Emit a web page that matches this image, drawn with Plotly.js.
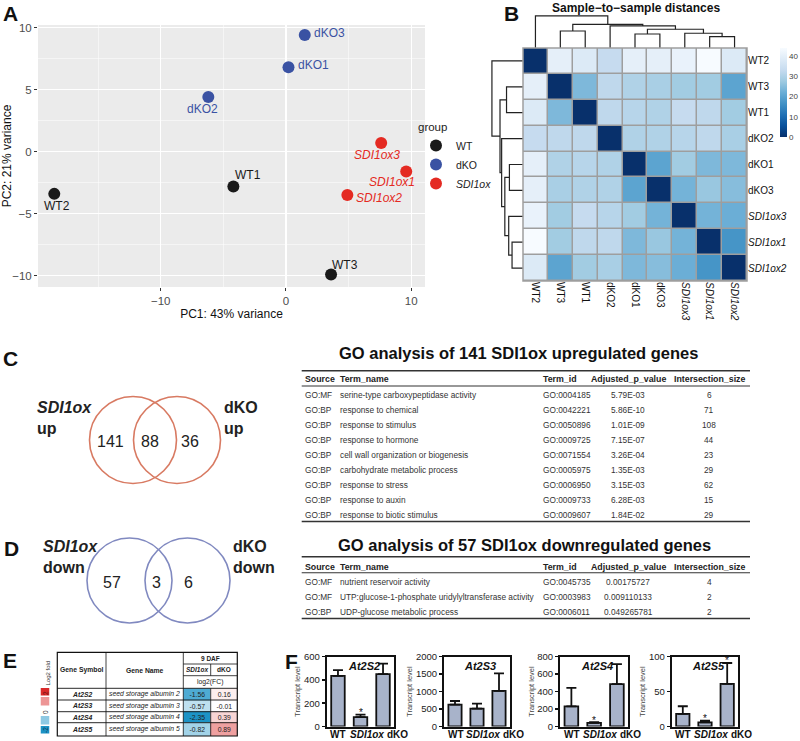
<!DOCTYPE html>
<html>
<head>
<meta charset="utf-8">
<script src="https://cdn.plot.ly/plotly-3.0.1.min.js"></script>
<style>body{margin:0;background:#fff;} #fig{width:800px;height:741px;}</style>
</head>
<body>
<div id="fig"></div>
<script>
// ---------- data ----------
// A: PCA
const sampleNames = ['WT1', 'WT2', 'WT3', 'dKO1', 'dKO2', 'dKO3', 'SDI1ox1', 'SDI1ox2', 'SDI1ox3'];
const sampleGroup = ['WT', 'WT', 'WT', 'dKO', 'dKO', 'dKO', 'SDI1ox', 'SDI1ox', 'SDI1ox'];
const pc1 = [-4.2, -18.5, 3.6, 0.2, -6.2, 1.5, 9.6, 4.9, 7.6];
const pc2 = [-2.8, -3.4, -9.9, 6.8, 4.4, 9.4, -1.6, -3.5, 0.7];

// B: sample distances (heatmap order)
const hmOrder = ['WT2', 'WT3', 'WT1', 'dKO2', 'dKO1', 'dKO3', 'SDI1ox3', 'SDI1ox1', 'SDI1ox2'];
const sampleDist = [
  [0, 40, 38, 33, 40, 40, 41, 44, 38],
  [40, 0, 24, 32, 30, 29, 28, 28, 20],
  [38, 24, 0, 32, 31, 30, 33, 32, 28],
  [33, 32, 32, 0, 30, 30, 31, 32, 29],
  [40, 30, 31, 30, 0, 20, 28, 24, 24],
  [40, 29, 30, 30, 20, 0, 23, 27, 25],
  [41, 28, 33, 31, 28, 23, 0, 23, 22],
  [44, 28, 32, 32, 24, 27, 23, 0, 17],
  [38, 20, 28, 29, 24, 25, 22, 17, 0]
];
// hclust-style merges: negative = leaf (1-based in hmOrder), positive = earlier merge
const hcMerge = [[-2, -3], [-5, -6], [-8, -9], [-7, 3], [2, 4], [-4, 5], [1, 6], [-1, 7]];
const hcHeight = [21.2, 17.5, 14.1, 18.4, 23.4, 27.5, 29.6, 40];

// C / D: venn counts [left only, both, right only]
const vennUpCounts = [141, 88, 36];
const vennDownCounts = [57, 3, 6];

// GO tables
const goHeader = ['Source', 'Term_name', 'Term_id', 'Adjusted_p_value', 'Intersection_size'];
const goUpSource = ['GO:MF', 'GO:BP', 'GO:BP', 'GO:BP', 'GO:BP', 'GO:BP', 'GO:BP', 'GO:BP', 'GO:BP'];
const goUpTerm = ['serine-type carboxypeptidase activity', 'response to chemical', 'response to stimulus',
  'response to hormone', 'cell wall organization or biogenesis', 'carbohydrate metabolic process',
  'response to stress', 'response to auxin', 'response to biotic stimulus'];
const goUpId = ['GO:0004185', 'GO:0042221', 'GO:0050896', 'GO:0009725', 'GO:0071554', 'GO:0005975',
  'GO:0006950', 'GO:0009733', 'GO:0009607'];
const goUpPadj = ['5.79E-03', '5.86E-10', '1.01E-09', '7.15E-07', '3.26E-04', '1.35E-03', '3.15E-03', '6.28E-03', '1.84E-02'];
const goUpSize = [6, 71, 108, 44, 23, 29, 62, 15, 29];

const goDownSource = ['GO:MF', 'GO:MF', 'GO:BP'];
const goDownTerm = ['nutrient reservoir activity', 'UTP:glucose-1-phosphate uridylyltransferase activity', 'UDP-glucose metabolic process'];
const goDownId = ['GO:0045735', 'GO:0003983', 'GO:0006011'];
const goDownPadj = ['0.00175727', '0.009110133', '0.049265781'];
const goDownSize = [4, 2, 2];

// E: fold changes
const geneSymbols = ['At2S2', 'At2S3', 'At2S4', 'At2S5'];
const geneNames = ['seed storage albumin 2', 'seed storage albumin 3', 'seed storage albumin 4', 'seed storage albumin 5'];
const fcSDI1ox = [-1.56, -0.57, -2.35, -0.82];
const fcDKO = [0.16, -0.01, 0.39, 0.89];
const fcLegend = [2, 1, 0, -1, -2];

// F: transcript levels
const barGroups = ['WT', 'SDI1ox', 'dKO'];
const qGenes = ['At2S2', 'At2S3', 'At2S4', 'At2S5'];
const qMean = [[435, 80, 450], [625, 510, 1020], [231, 42, 485], [18, 6, 61]];
const qErr = [[50, 22, 90], [105, 145, 500], [211, 8, 230], [11, 2.5, 30]];
const qSig = [[false, true, false], [false, false, false], [false, true, false], [false, true, true]];

// ---------- helpers ----------
const W = 800, H = 741;
const px = x => x / W;
const py = y => 1 - y / H;
const dx = (a, b) => [a / W, b / W];
const dy = (top, bottom) => [1 - bottom / H, 1 - top / H];
const ARIAL = 'Liberation Sans, Arial, sans-serif';
const it = s => s.startsWith('SDI1ox') ? '<i>' + s + '</i>' : s;

const traces = [];
const annotations = [];
const shapes = [];

function ann(x, y, text, o = {}) {
  return {
    xref: 'paper', yref: 'paper', x: px(x), y: py(y), text: text, showarrow: false,
    xanchor: o.xanchor || 'center', yanchor: o.yanchor || 'middle', align: o.align || 'center',
    textangle: o.angle || 0,
    font: {family: ARIAL, size: o.size || 12, color: o.color || '#222'}
  };
}
function hline(x0, x1, y, width, color) {
  shapes.push({type: 'line', xref: 'paper', yref: 'paper', x0: px(x0), x1: px(x1), y0: py(y), y1: py(y),
    line: {color: color || '#222', width: width}});
}
function vline(x, y0, y1, width, color) {
  shapes.push({type: 'line', xref: 'paper', yref: 'paper', x0: px(x), x1: px(x), y0: py(y0), y1: py(y1),
    line: {color: color || '#222', width: width}});
}

const layout = {
  width: W, height: H,
  margin: {l: 0, r: 0, t: 0, b: 0},
  paper_bgcolor: '#fff', plot_bgcolor: 'rgba(0,0,0,0)',
  font: {family: ARIAL, color: '#222'},
  showlegend: true,
  legend: {
    x: px(416), y: py(116), xanchor: 'left', yanchor: 'top',
    title: {text: 'group', font: {size: 11.5, color: '#222'}},
    font: {size: 10.5, color: '#222'}, bgcolor: 'rgba(0,0,0,0)', tracegroupgap: 0
  }
};

// panel letters
[['A', 10, 14], ['B', 511, 13], ['C', 10, 358], ['D', 11, 548], ['E', 10, 660], ['F', 291, 661]].forEach(l => {
  annotations.push(ann(l[1], l[2], '<b>' + l[0] + '</b>', {size: 21, color: '#111'}));
});

// ---------- A: PCA ----------
const groupColor = {WT: '#1A1A1A', dKO: '#3A52A3', SDI1ox: '#E42A22'};
// label offsets from each point, in pixels (right, up)
const labelShift = {
  WT1: [15, 11], WT2: [3, -12], WT3: [14, 10],
  dKO1: [25, 2], dKO2: [-6, -12], dKO3: [25, 2],
  SDI1ox1: [-14, -10], SDI1ox2: [32, -3], SDI1ox3: [-4, -12]
};
['WT', 'dKO', 'SDI1ox'].forEach(g => {
  const idx = sampleNames.map((n, i) => i).filter(i => sampleGroup[i] === g);
  traces.push({
    type: 'scatter', mode: 'markers', xaxis: 'x', yaxis: 'y',
    x: idx.map(i => pc1[i]), y: idx.map(i => pc2[i]),
    marker: {size: 12, color: groupColor[g]},
    name: it(g), cliponaxis: false, hoverinfo: 'skip'
  });
  idx.forEach(i => {
    annotations.push({xref: 'x', yref: 'y', x: pc1[i], y: pc2[i], showarrow: false,
      xshift: labelShift[sampleNames[i]][0], yshift: labelShift[sampleNames[i]][1],
      xanchor: 'center', yanchor: 'middle', text: it(sampleNames[i]),
      font: {size: 12, color: groupColor[g]}});
  });
});
layout.xaxis = {
  domain: dx(38, 425), anchor: 'y', range: [-19.8, 11.1], tick0: 0, dtick: 10,
  showgrid: true, gridcolor: '#fff', gridwidth: 1.2, zeroline: false,
  minor: {dtick: 5, tick0: 0, showgrid: true, gridcolor: '#fff', gridwidth: 0.5},
  ticks: 'outside', ticklen: 3, tickcolor: '#333',
  tickfont: {size: 11.5, color: '#4D4D4D'},
  title: {text: 'PC1: 43% variance', font: {size: 12, color: '#111'}, standoff: 3}
};
layout.yaxis = {
  domain: dy(25, 287), anchor: 'x', range: [-10.9, 10.2], tick0: 0, dtick: 5,
  showgrid: true, gridcolor: '#fff', gridwidth: 1.2, zeroline: false,
  minor: {dtick: 2.5, tick0: 0, showgrid: true, gridcolor: '#fff', gridwidth: 0.5},
  ticks: 'outside', ticklen: 3, tickcolor: '#333',
  tickfont: {size: 11.5, color: '#4D4D4D'},
  title: {text: 'PC2: 21% variance', font: {size: 12, color: '#111'}, standoff: 3}
};
shapes.push({type: 'rect', xref: 'x domain', yref: 'y domain', x0: 0, x1: 1, y0: 0, y1: 1,
  fillcolor: '#EBEBEB', line: {width: 0}, layer: 'below'});

// ---------- B: distance heatmap + dendrograms ----------
const blues = [[0, '#08306B'], [0.125, '#08519C'], [0.25, '#2171B5'], [0.375, '#4292C6'], [0.5, '#6BAED6'],
  [0.625, '#9ECAE1'], [0.75, '#C6DBEF'], [0.875, '#DEEBF7'], [1, '#F7FBFF']];
const idxs = hmOrder.map((n, i) => i);
traces.push({
  type: 'heatmap', xaxis: 'x2', yaxis: 'y2', x: idxs, y: idxs, z: sampleDist,
  colorscale: blues, zmin: 0, zmax: 44, xgap: 1.5, ygap: 1.5, hoverinfo: 'skip', showlegend: false,
  colorbar: {
    x: px(780), xanchor: 'left', y: py(92.5), yanchor: 'middle', len: 89, lenmode: 'pixels',
    thickness: 7, outlinewidth: 0, xpad: 0, ypad: 0, ticks: '', tickvals: [0, 10, 20, 30, 40],
    tickfont: {size: 8, color: '#444'}
  }
});
layout.xaxis2 = {
  domain: dx(523, 747), anchor: 'y2', range: [-0.5, 8.5], tickvals: idxs, ticktext: hmOrder.map(it),
  tickangle: 90, ticks: '', showgrid: false, zeroline: false, tickfont: {size: 10, color: '#111'}
};
layout.yaxis2 = {
  domain: dy(48, 281), anchor: 'x2', range: [8.5, -0.5], tickvals: idxs, ticktext: hmOrder.map(it),
  side: 'right', ticks: '', showgrid: false, zeroline: false, tickfont: {size: 10, color: '#111'}
};
shapes.push({type: 'rect', xref: 'x2 domain', yref: 'y2 domain', x0: 0, x1: 1, y0: 0, y1: 1,
  fillcolor: '#9E9E9E', line: {width: 0}, layer: 'below'});
shapes.push({type: 'rect', xref: 'x2 domain', yref: 'y2 domain', x0: 0, x1: 1, y0: 0, y1: 1,
  fillcolor: 'rgba(0,0,0,0)', line: {width: 1.5, color: '#9E9E9E'}, layer: 'above'});

function dendroSegments(merge, height) {
  const pos = [], hgt = [], p = [], h = [];
  const center = a => a < 0 ? -a - 1 : pos[a - 1];
  const hOf = a => a < 0 ? 0 : hgt[a - 1];
  merge.forEach(([a, b], i) => {
    const pa = center(a), pb = center(b), hh = height[i];
    p.push(pa, pa, pb, pb, null);
    h.push(hOf(a), hh, hh, hOf(b), null);
    pos.push((pa + pb) / 2);
    hgt.push(hh);
  });
  return {p, h};
}
const seg = dendroSegments(hcMerge, hcHeight);
const dendLine = {color: '#222', width: 1.2};
traces.push({type: 'scatter', mode: 'lines', xaxis: 'x3', yaxis: 'y3', x: seg.p, y: seg.h,
  line: dendLine, hoverinfo: 'skip', showlegend: false});
traces.push({type: 'scatter', mode: 'lines', xaxis: 'x4', yaxis: 'y4', x: seg.h, y: seg.p,
  line: dendLine, hoverinfo: 'skip', showlegend: false});
layout.xaxis3 = {domain: dx(523, 747), anchor: 'y3', range: [-0.5, 8.5], visible: false};
layout.yaxis3 = {domain: dy(15, 48), anchor: 'x3', range: [0, 41.2], visible: false};
layout.xaxis4 = {domain: dx(491, 523), anchor: 'y4', range: [41.2, 0], visible: false};
layout.yaxis4 = {domain: dy(48, 281), anchor: 'x4', range: [8.5, -0.5], visible: false};
annotations.push(ann(636, 8, '<b>Sample\u2212to\u2212sample distances</b>', {size: 12, color: '#111'}));

// ---------- C / D: venn diagrams ----------
function venn(counts, cfg) {
  cfg.cx.forEach(cx => {
    shapes.push({type: 'circle', xref: 'paper', yref: 'paper',
      x0: px(cx - cfg.r), x1: px(cx + cfg.r), y0: py(cfg.cy + cfg.r), y1: py(cfg.cy - cfg.r),
      line: {color: cfg.color, width: 1.6}});
  });
  counts.forEach((c, i) => annotations.push(ann(cfg.labelX[i], cfg.cy + 1.5, String(c), {size: 16, color: '#222'})));
  annotations.push(ann(cfg.leftX, cfg.nameY, '<b><i>SDI1ox</i><br>' + cfg.word + '</b>', {size: 16, xanchor: 'left', align: 'left', color: '#222'}));
  annotations.push(ann(cfg.rightX, cfg.nameY, '<b>dKO<br>' + cfg.word + '</b>', {size: 16, xanchor: 'left', align: 'left', color: '#222'}));
}
venn(vennUpCounts, {cx: [133, 177], cy: 440, r: 43.5, color: '#D87A62', labelX: [110, 150, 190],
  leftX: 35, rightX: 222, nameY: 418, word: 'up'});
venn(vennDownCounts, {cx: [129.5, 187.5], cy: 580.5, r: 42.5, color: '#8089C0', labelX: [112, 156, 188],
  leftX: 41, rightX: 231, nameY: 557, word: 'down'});

// ---------- GO tables ----------
const goColX = [303, 337.7, 540.7, 628, 709];
const goColAnchor = ['left', 'left', 'left', 'center', 'center'];
function goTable(title, cfg, cols) {
  annotations.push(ann(cfg.titleX, cfg.titleY, '<b>' + title + '</b>', {size: 16.5, color: '#111'}));
  hline(301.7, 750, cfg.top, 1.6, '#333');
  hline(301.7, 750, cfg.headRule, 1.1, '#333');
  hline(301.7, 750, cfg.bottom, 1.6, '#333');
  goHeader.forEach((h, c) => annotations.push(ann(goColX[c], cfg.headY, '<b>' + h + '</b>',
    {size: 8.8, xanchor: goColAnchor[c], color: '#222'})));
  cols.forEach((col, c) => col.forEach((v, r) => annotations.push(ann(goColX[c], cfg.row0 + 15 * r, String(v),
    {size: 8.3, xanchor: goColAnchor[c], color: '#333'}))));
}
goTable('GO analysis of 141 SDI1ox upregulated genes',
  {titleX: 518, titleY: 353, top: 370.7, headY: 379, headRule: 386, row0: 395, bottom: 521.5},
  [goUpSource, goUpTerm, goUpId, goUpPadj, goUpSize]);
goTable('GO analysis of 57 SDI1ox downregulated genes',
  {titleX: 524, titleY: 545, top: 556.7, headY: 566.5, headRule: 572.7, row0: 581.7, bottom: 618.5},
  [goDownSource, goDownTerm, goDownId, goDownPadj, goDownSize]);

// ---------- E: fold-change table ----------
const eCols = [57.3, 106, 183.3, 210.7, 237.3];
const eRows = [652.3, 664, 675.7, 688.3, 700, 711.7, 722.7, 736];
const fcScale = [[0, '#1C93C6'], [0.5, '#FFFFFF'], [1, '#DA2A2A']];
traces.push({
  type: 'heatmap', xaxis: 'x9', yaxis: 'y9', x: eCols.slice(2), y: eRows.slice(3),
  z: geneSymbols.map((g, i) => [fcSDI1ox[i], fcDKO[i]]),
  text: geneSymbols.map((g, i) => [fcSDI1ox[i].toFixed(2), fcDKO[i].toFixed(2)]),
  texttemplate: '%{text}', textfont: {family: ARIAL, size: 6.8, color: '#222'},
  colorscale: fcScale, zmin: -2, zmax: 2, showscale: false, hoverinfo: 'skip', showlegend: false
});
layout.xaxis9 = {domain: dx(eCols[0], eCols[4]), anchor: 'y9', range: [eCols[0], eCols[4]], visible: false};
layout.yaxis9 = {domain: dy(eRows[0], eRows[7]), anchor: 'x9', range: [eRows[7], eRows[0]], visible: false};
// table rules
shapes.push({type: 'rect', xref: 'paper', yref: 'paper', x0: px(eCols[0]), x1: px(eCols[4]),
  y0: py(eRows[7]), y1: py(eRows[0]), line: {color: '#111', width: 1.2}});
[eRows[1], eRows[2]].forEach(y => hline(eCols[2], eCols[4], y, 0.8, '#111'));
eRows.slice(3, 7).forEach(y => hline(eCols[0], eCols[4], y, 0.9, '#111'));
vline(eCols[1], eRows[0], eRows[7], 0.8, '#111');
vline(eCols[2], eRows[0], eRows[7], 0.8, '#111');
vline(eCols[3], eRows[1], eRows[2], 0.8, '#111');
vline(eCols[3], eRows[3], eRows[7], 0.8, '#111');
const eMid = (a, b) => (a + b) / 2;
annotations.push(ann(eMid(eCols[0], eCols[1]), 670, '<b>Gene Symbol</b>', {size: 6.8}));
annotations.push(ann(eMid(eCols[1], eCols[2]), 670, '<b>Gene Name</b>', {size: 6.8}));
annotations.push(ann(eMid(eCols[2], eCols[4]), eMid(eRows[0], eRows[1]), '<b>9 DAF</b>', {size: 6.5}));
annotations.push(ann(eMid(eCols[2], eCols[3]), eMid(eRows[1], eRows[2]), '<b><i>SDI1ox</i></b>', {size: 6.5}));
annotations.push(ann(eMid(eCols[3], eCols[4]), eMid(eRows[1], eRows[2]), '<b>dKO</b>', {size: 6.5}));
annotations.push(ann(eMid(eCols[2], eCols[4]), eMid(eRows[2], eRows[3]), 'log2(FC)', {size: 6.8}));
geneSymbols.forEach((g, i) => {
  const y = eMid(eRows[3 + i], eRows[4 + i]);
  annotations.push(ann(eMid(eCols[0], eCols[1]), y, '<b><i>' + g + '</i></b>', {size: 6.8}));
  annotations.push(ann(eCols[1] + 1, y, '<i>' + geneNames[i] + '</i>', {size: 6.8, xanchor: 'left'}));
});
// colour key
traces.push({
  type: 'heatmap', xaxis: 'x10', yaxis: 'y10', x: [0], y: fcLegend.map((v, i) => i),
  z: fcLegend.map(v => [v]), colorscale: fcScale, zmin: -2, zmax: 2, ygap: 1.5,
  showscale: false, hoverinfo: 'skip', showlegend: false
});
layout.xaxis10 = {domain: dx(40.5, 49.5), anchor: 'y10', range: [-0.5, 0.5], visible: false};
layout.yaxis10 = {domain: dy(688, 735), anchor: 'x10', range: [4.5, -0.5], visible: false};
annotations.push(ann(47.5, 673, 'Log2 fold', {size: 6, angle: -90, color: '#333'}));
annotations.push(ann(45, 693, '2', {size: 6.5, angle: -90, color: '#5A1010'}));
annotations.push(ann(45, 712, '0', {size: 6.5, angle: -90, color: '#333'}));
annotations.push(ann(45, 730, '-2', {size: 6.5, angle: -90, color: '#0B3550'}));

// ---------- F: transcript levels ----------
const fFrames = [[326.7, 394.3], [444, 510], [560, 628.3], [671.7, 738.3]];
const fMax = [600, 2000, 800, 100];
const fDtick = [200, 500, 200, 50];
const fLabelShift = [0.5, 6, 14];
qGenes.forEach((gene, g) => {
  const k = 11 + g;
  traces.push({
    type: 'bar', xaxis: 'x' + k, yaxis: 'y' + k, x: [0, 1, 2], y: qMean[g], width: 0.6,
    marker: {color: '#A8B3CA', line: {color: '#111', width: 1.8}},
    error_y: {type: 'data', symmetric: false, array: qErr[g], arrayminus: [0, 0, 0],
      color: '#111', thickness: 1.8, width: 5},
    hoverinfo: 'skip', showlegend: false
  });
  layout['xaxis' + k] = {
    domain: dx(fFrames[g][0], fFrames[g][1]), anchor: 'y' + k, range: [-0.5, 2.5],
    showticklabels: false, ticks: '', showline: true, mirror: true, linecolor: '#111', linewidth: 2,
    showgrid: false, zeroline: false
  };
  layout['yaxis' + k] = {
    domain: dy(656.7, 726.5), anchor: 'x' + k, range: [0, fMax[g]], tick0: 0, dtick: fDtick[g],
    ticks: 'outside', ticklen: 3, tickwidth: 1.5, tickcolor: '#111',
    showline: true, mirror: true, linecolor: '#111', linewidth: 2, showgrid: false, zeroline: false,
    tickfont: {size: 9.5, color: '#222'},
    title: {text: 'Transcript level', font: {size: 7.5, color: '#444'}, standoff: 2}
  };
  annotations.push({xref: 'x' + k + ' domain', yref: 'paper', x: 0.5, y: py(666), xshift: 3,
    xanchor: 'center', yanchor: 'middle',
    text: '<b><i>' + gene + '</i></b>', showarrow: false, font: {size: 11, color: '#111'}});
  barGroups.forEach((b, j) => {
    annotations.push({xref: 'x' + k, yref: 'paper', x: j, y: py(734.5), xshift: fLabelShift[j],
      xanchor: 'center', yanchor: 'middle',
      text: '<b>' + it(b) + '</b>', showarrow: false, font: {size: 10, color: '#111'}});
    if (qSig[g][j]) {
      annotations.push({xref: 'x' + k, yref: 'y' + k, x: j, y: qMean[g][j] + qErr[g][j], yshift: 2,
        xanchor: 'center', yanchor: 'middle', text: '*', showarrow: false, font: {size: 10, color: '#111'}});
    }
  });
});

layout.annotations = annotations;
layout.shapes = shapes;

Plotly.newPlot('fig', traces, layout, {staticPlot: true, displayModeBar: false});
</script>
</body>
</html>
